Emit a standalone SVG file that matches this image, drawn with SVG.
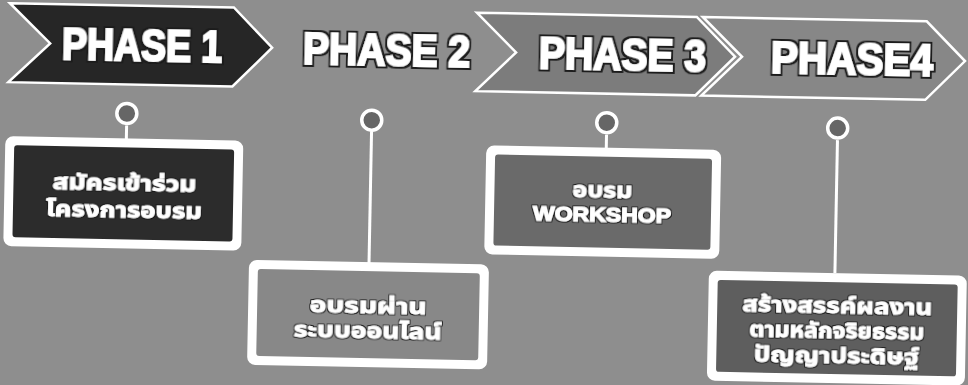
<svg xmlns="http://www.w3.org/2000/svg" width="968" height="385" viewBox="0 0 968 385">
<defs>
<filter id="outline" x="-10%" y="-30%" width="120%" height="160%">
  <feMorphology in="SourceAlpha" operator="dilate" radius="2" result="d"/>
  <feFlood flood-color="#1a1a1a"/>
  <feComposite in2="d" operator="in" result="o"/>
  <feMerge><feMergeNode in="o"/><feMergeNode in="SourceGraphic"/></feMerge>
</filter>
<filter id="outline2" x="-10%" y="-30%" width="120%" height="160%">
  <feMorphology in="SourceAlpha" operator="dilate" radius="1.2" result="d"/>
  <feFlood flood-color="#1a1a1a"/>
  <feComposite in2="d" operator="in" result="o"/>
  <feMerge><feMergeNode in="o"/><feMergeNode in="SourceGraphic"/></feMerge>
</filter>
</defs>
<style>
.bg{fill:#8e8e8e}
.ph{font-family:"Liberation Sans",Arial,sans-serif;font-weight:bold;font-size:44px;fill:#ffffff;stroke:#ffffff;stroke-width:2px;filter:url(#outline);}
.th{font-family:"Noto Sans Thai","Noto Sans","Noto Sans CJK SC",sans-serif;font-weight:bold;font-size:22px;fill:#ffffff;text-anchor:middle;stroke:#ffffff;stroke-width:0.8px;filter:url(#outline2);}
.en{font-family:"Liberation Sans",Arial,sans-serif;font-weight:bold;font-size:21px;fill:#ffffff;text-anchor:middle;stroke:#ffffff;stroke-width:1.2px;filter:url(#outline2);}
.frame{fill:#ffffff}
.dot{fill:#666666;stroke:#ffffff;stroke-width:3.5}
.link{stroke:#ffffff;stroke-width:3;fill:none}
.chev{stroke:#ffffff;stroke-width:2.5}
</style>
<rect class="bg" x="0" y="0" width="968" height="385"/>
<g transform="rotate(1.1)">
  <g id="connectors">
    <line class="link" x1="129" y1="123" x2="129" y2="137"/>
    <line class="link" x1="374" y1="124" x2="374" y2="256"/>
    <line class="link" x1="609" y1="123" x2="609" y2="137"/>
    <line class="link" x1="840" y1="124" x2="840" y2="257"/>
  </g>
  <g id="phase1">
    <polygon points="10,3 234,3 273,42.5 234,82 10,82 51,42.5" fill="#262626" class="chev"/>
    <text class="ph" x="63" y="58" textLength="160" lengthAdjust="spacingAndGlyphs">PHASE 1</text>
  </g>
  <g id="phase2">
    <text class="ph" x="304" y="58" textLength="167" lengthAdjust="spacingAndGlyphs">PHASE 2</text>
  </g>
  <g id="phase3">
    <polygon points="477,3.5 697,3.5 736,42.5 697,82 477,82 517,42.5" fill="#7c7c7c" class="chev"/>
    <text class="ph" x="540" y="58" textLength="167" lengthAdjust="spacingAndGlyphs">PHASE 3</text>
  </g>
  <g id="phase4">
    <polygon points="703,3.5 927,3.5 966,42.5 927,82 703,82 743,42.5" fill="#878787" class="chev"/>
    <text class="ph" x="772" y="58" textLength="162" lengthAdjust="spacingAndGlyphs">PHASE4</text>
  </g>
  <g id="dots">
    <circle class="dot" cx="129" cy="111" r="10"/>
    <circle class="dot" cx="374" cy="113" r="10"/>
    <circle class="dot" cx="609" cy="111" r="10"/>
    <circle class="dot" cx="840" cy="112" r="10"/>
  </g>
  <g id="box1">
    <rect class="frame" x="8" y="136" width="238" height="110" rx="8"/>
    <rect x="17" y="145" width="220" height="92" rx="3" fill="#2c2c2c"/>
    <text class="th" x="128" y="188" textLength="144" lengthAdjust="spacingAndGlyphs">สมัครเข้าร่วม</text>
    <text class="th" x="128" y="215" textLength="156" lengthAdjust="spacingAndGlyphs">โครงการอบรม</text>
  </g>
  <g id="box2">
    <rect class="frame" x="254" y="255" width="240" height="105" rx="8"/>
    <rect x="263" y="264" width="222" height="87" rx="3" fill="#888888"/>
    <text class="th" x="374" y="306" textLength="117" lengthAdjust="spacingAndGlyphs">อบรมผ่าน</text>
    <text class="th" x="374" y="331" textLength="148" lengthAdjust="spacingAndGlyphs">ระบบออนไลน์</text>
  </g>
  <g id="box3">
    <rect class="frame" x="489" y="136" width="235" height="109" rx="8"/>
    <rect x="498" y="145" width="217" height="91" rx="3" fill="#6a6a6a"/>
    <text class="th" x="606" y="186" textLength="60" lengthAdjust="spacingAndGlyphs">อบรม</text>
    <text class="en" x="606" y="210" textLength="138" lengthAdjust="spacingAndGlyphs">WORKSHOP</text>
  </g>
  <g id="box4">
    <rect class="frame" x="714" y="257" width="258" height="110" rx="8"/>
    <rect x="723" y="266" width="240" height="92" rx="3" fill="#5e5e5e"/>
    <text class="th" x="843" y="297" textLength="190" lengthAdjust="spacingAndGlyphs">สร้างสรรค์ผลงาน</text>
    <text class="th" x="843" y="322" textLength="175" lengthAdjust="spacingAndGlyphs">ตามหลักจริยธรรม</text>
    <text class="th" x="843" y="347" textLength="165" lengthAdjust="spacingAndGlyphs">ปัญญาประดิษฐ์</text>
  </g>
</g>
</svg>
